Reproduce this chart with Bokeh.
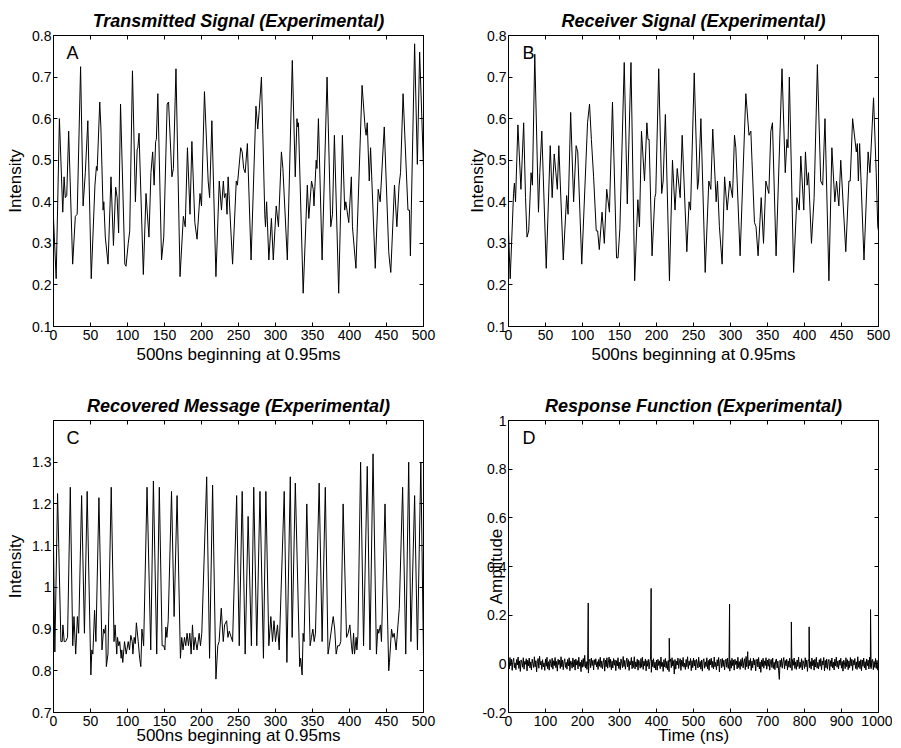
import math
from bokeh.plotting import figure
from bokeh.layouts import column, row
from bokeh.models import Range1d, FixedTicker, LinearAxis, Label, CustomLabelingPolicy
from bokeh.embed import file_html
from bokeh.resources import INLINE

FONT = "Liberation Sans"

# ---------------- Panel A: transmitted signal ----------------
A_t = [0, 3.6, 8, 12.5, 14.3, 16, 17.9, 20.5, 25.9, 29.5, 32, 36.6, 40, 43, 46.4, 51, 56, 58, 59, 62.5,
       64, 67, 68, 70, 73.7, 77.7, 81, 84, 86, 88, 90.6, 96.4, 98, 101, 103, 106.7, 110.7, 113, 114, 115.6,
       121.4, 125, 129, 131.7, 134, 136, 138, 139, 141, 146, 149, 153.6, 155.5, 160, 162, 165.5, 171, 175.5, 178, 181,
       184.5, 187, 191, 194, 198, 200, 204, 209, 211, 214, 219.5, 224, 227, 229.5, 231, 233, 234.5, 236, 242, 247,
       248.5, 253, 255, 257, 259, 262, 267, 273.6, 276, 278, 281, 285.5, 286.5, 288, 291, 294.5, 297, 301, 304, 308,
       310, 316, 322.7, 326.7, 329, 330, 331, 337.4, 343, 345, 348.7, 351, 352, 355, 356, 358, 363, 369.7, 374.7, 377,
       379.6, 385.4, 390.4, 393.5, 395, 399, 402.5, 404, 408.7, 417, 421, 422.5, 424, 426.7, 428.5, 434.8, 438.8, 441.5, 447, 453,
       454, 455.8, 460.8, 464, 467, 469, 472.4, 479, 481, 482.3, 488, 491.7, 494.8, 500]
A_v = [0.36, 0.215, 0.60, 0.375, 0.46, 0.41, 0.415, 0.57, 0.25, 0.365, 0.37, 0.725, 0.39, 0.47, 0.595, 0.215, 0.44, 0.485, 0.475, 0.64,
       0.58, 0.38, 0.40, 0.315, 0.25, 0.46, 0.295, 0.435, 0.41, 0.325, 0.635, 0.25, 0.245, 0.30, 0.33, 0.715, 0.40, 0.525, 0.53, 0.565,
       0.225, 0.42, 0.315, 0.47, 0.52, 0.44, 0.545, 0.55, 0.66, 0.26, 0.315, 0.635, 0.64, 0.46, 0.48, 0.72, 0.22, 0.365, 0.34, 0.53,
       0.37, 0.545, 0.35, 0.31, 0.42, 0.39, 0.665, 0.45, 0.41, 0.595, 0.22, 0.45, 0.38, 0.45, 0.41, 0.42, 0.37, 0.46, 0.25, 0.45,
       0.44, 0.53, 0.52, 0.48, 0.47, 0.54, 0.26, 0.63, 0.575, 0.62, 0.70, 0.37, 0.34, 0.40, 0.26, 0.36, 0.26, 0.39, 0.34, 0.52,
       0.48, 0.26, 0.74, 0.46, 0.60, 0.58, 0.59, 0.18, 0.44, 0.36, 0.45, 0.43, 0.39, 0.50, 0.48, 0.60, 0.26, 0.70, 0.34, 0.37,
       0.56, 0.18, 0.56, 0.38, 0.40, 0.35, 0.46, 0.34, 0.24, 0.68, 0.58, 0.56, 0.59, 0.45, 0.53, 0.24, 0.43, 0.40, 0.58, 0.28,
       0.26, 0.23, 0.44, 0.34, 0.44, 0.47, 0.66, 0.38, 0.38, 0.27, 0.78, 0.49, 0.76, 0.48]

# ---------------- Panel B: receiver signal ----------------
B_t = [0, 2.3, 6.8, 8, 9.5, 12.7, 16.8, 20.5, 23, 25, 27.3, 30.5, 32.3, 35.5, 40.5, 42.3, 45, 51, 56.4, 59,
       61.8, 64, 66, 68, 74, 78.6, 80.5, 84, 88, 91.4, 93.6, 99, 106.8, 109.5, 112, 115, 118.6, 120.5, 122.7, 126.4,
       129.5, 132.7, 136.4, 140.5, 146, 148, 150.5, 156.4, 160.5, 165.5, 170.5, 174.8, 177, 179.7, 183.8, 187, 188.5, 190, 194, 197.7,
       199, 203, 207, 209, 212, 217.5, 221.6, 225, 228, 232, 234.7, 241, 244, 246, 251, 255.4, 256.8, 260, 265.8, 270.7,
       273.4, 276, 280.6, 282.4, 285, 288.7, 292, 295.5, 299, 302.7, 305.4, 307.2, 313, 320.7, 325, 327.5, 329, 332.4, 334.5, 337.3,
       341.5, 344.6, 347.8, 350.4, 351.8, 354.5, 356.7, 361.6, 369.6, 374, 376.3, 377.7, 379.5, 385.3, 389.7, 392.9, 395, 399, 401.3, 403.6,
       405.4, 409.4, 413, 417.4, 421.9, 424.6, 427.7, 433, 437, 441, 443.3, 446.4, 449, 455.8, 460, 461.8, 465, 470, 471.4, 472.8,
       474.5, 480.4, 486, 488.4, 493.3, 496.9, 499, 500]
B_v = [0.33, 0.215, 0.42, 0.445, 0.40, 0.585, 0.43, 0.59, 0.41, 0.315, 0.33, 0.47, 0.44, 0.755, 0.375, 0.47, 0.57, 0.24, 0.535, 0.41,
       0.515, 0.47, 0.43, 0.535, 0.26, 0.415, 0.37, 0.615, 0.40, 0.535, 0.52, 0.25, 0.59, 0.635, 0.55, 0.46, 0.33, 0.33, 0.285, 0.375,
       0.30, 0.43, 0.375, 0.64, 0.265, 0.265, 0.335, 0.735, 0.395, 0.735, 0.21, 0.405, 0.34, 0.57, 0.45, 0.59, 0.55, 0.55, 0.27, 0.41,
       0.42, 0.72, 0.42, 0.45, 0.61, 0.21, 0.50, 0.38, 0.48, 0.41, 0.56, 0.28, 0.40, 0.38, 0.71, 0.43, 0.45, 0.60, 0.23, 0.45,
       0.43, 0.575, 0.40, 0.45, 0.34, 0.25, 0.46, 0.38, 0.45, 0.41, 0.56, 0.53, 0.27, 0.66, 0.56, 0.57, 0.50, 0.35, 0.34, 0.27,
       0.41, 0.30, 0.45, 0.43, 0.42, 0.57, 0.59, 0.27, 0.72, 0.47, 0.55, 0.53, 0.70, 0.23, 0.41, 0.38, 0.51, 0.38, 0.52, 0.44,
       0.47, 0.30, 0.41, 0.73, 0.45, 0.44, 0.60, 0.21, 0.53, 0.40, 0.45, 0.39, 0.50, 0.28, 0.45, 0.45, 0.60, 0.52, 0.54, 0.45,
       0.54, 0.26, 0.52, 0.47, 0.65, 0.47, 0.34, 0.33]

# ---------------- Panel C: recovered message ----------------
C_t = [0, 1.8, 5.5, 10, 11.8, 12.7, 14.5, 16.4, 19, 22.7, 26, 27.7, 30, 32.3, 34, 38, 41.8, 45.5, 50.5, 51.8,
       53.2, 55.5, 57.3, 61.4, 65.5, 67.7, 69, 70.5, 71.4, 73.6, 78, 81.8, 83.2, 85.5, 86.4, 88.2, 89.5, 91.4, 92.3, 93.6,
       96, 98.2, 101, 102.7, 104.5, 106.4, 107.3, 109, 110.5, 112, 114.5, 116.4, 118, 119.5, 121.8, 126.4, 131.4, 135, 139.5, 143,
       146.8, 149, 150.5, 151.8, 153.2, 155, 159.5, 163, 167, 171.5, 173.3, 175, 177, 178.7, 180.5, 182.4, 184.2, 186, 187.8, 189.6,
       191.4, 194, 196.8, 198.6, 200.4, 207, 210.9, 215, 219.5, 222, 223.8, 226.7, 229.4, 231.2, 234, 235.7, 237.5, 242, 247.5, 251,
       255, 259, 263, 267.4, 270.6, 274.7, 279, 283.7, 287, 291, 293.7, 296, 298, 300, 302.7, 305, 311.8, 315.4, 320, 322.5,
       326.8, 332.7, 334, 336, 337.3, 338.6, 342.3, 346.8, 348.6, 350.5, 352.3, 354, 359, 363, 367.3, 371, 372.7, 376.4, 378, 380,
       382, 384, 386.4, 388.2, 391.4, 396, 398.2, 400.5, 402.7, 404, 405.5, 406.8, 409, 410, 411.4, 415, 419, 424, 427.7, 431.8,
       436.4, 438.2, 439.5, 441.8, 443.2, 448, 453, 454, 456.8, 458.6, 460.4, 463, 465.5, 467.3, 471.8, 476, 480, 483, 488, 491.8,
       496.4, 500]
C_v = [1.10, 0.845, 1.225, 0.87, 0.87, 0.91, 0.87, 0.87, 0.88, 1.24, 0.86, 0.93, 0.84, 0.93, 0.89, 1.22, 0.89, 1.23, 0.79, 0.85,
       0.84, 0.945, 0.87, 1.215, 0.85, 0.90, 0.89, 0.91, 0.81, 0.84, 1.24, 0.87, 0.91, 0.84, 0.88, 0.86, 0.87, 0.83, 0.85, 0.82,
       0.87, 0.84, 0.87, 0.85, 0.885, 0.87, 0.84, 0.88, 0.865, 0.915, 0.87, 0.83, 0.81, 0.90, 0.86, 1.24, 0.85, 1.255, 0.84, 1.24,
       0.86, 0.86, 0.85, 0.905, 0.88, 0.92, 1.23, 0.93, 1.22, 0.83, 0.88, 0.85, 0.88, 0.86, 0.89, 0.86, 0.89, 0.84, 0.91, 0.85,
       0.88, 0.85, 0.89, 0.86, 0.89, 1.265, 0.83, 1.245, 0.78, 0.86, 0.87, 0.95, 0.87, 0.91, 0.92, 0.88, 0.895, 0.87, 1.22, 0.86,
       1.23, 0.84, 1.17, 0.86, 1.24, 0.86, 1.23, 0.83, 1.23, 0.86, 0.93, 0.87, 0.92, 0.87, 0.91, 0.85, 1.23, 0.82, 1.265, 0.88,
       1.25, 0.81, 0.83, 0.79, 0.89, 0.87, 1.20, 0.86, 0.88, 0.90, 0.87, 0.89, 1.25, 0.87, 1.24, 0.84, 0.86, 0.91, 0.93, 0.90,
       0.84, 0.86, 0.86, 0.87, 1.20, 0.88, 0.89, 0.91, 0.86, 0.84, 0.89, 0.84, 0.88, 0.85, 0.885, 1.30, 0.86, 1.29, 0.85, 1.32,
       0.84, 0.90, 0.89, 0.91, 0.87, 1.20, 0.80, 0.82, 0.90, 0.88, 0.89, 0.85, 0.91, 0.95, 1.24, 0.84, 1.30, 0.87, 1.22, 0.85,
       1.30, 0.83]

# ---------------- Panel D: response function ----------------
D_step_ns = 2
D_noise = [
    0.014, -0.021, 0.026, -0.008, 0.019, -0.027, 0.011, 0.023, -0.016, 0.004,
    -0.024, 0.018, -0.005, 0.028, -0.019, 0.012, -0.031, 0.016, 0.006, -0.014,
    0.025, -0.022, 0.010, -0.002, 0.021, -0.029, 0.015, -0.009, 0.024, -0.017,
    0.008, -0.025, 0.019, 0.002, -0.015, 0.029, -0.012, 0.013, -0.033, 0.009,
    0.022, -0.018, 0.031, -0.005, 0.011, -0.023, 0.017, -0.013, 0.004, -0.027,
    0.020, -0.010, 0.027, -0.020, 0.009, -0.026, 0.018, 0.001, -0.014, 0.023,
    -0.022, 0.013, -0.007, 0.026, -0.016, 0.010, -0.030, 0.019, -0.003, 0.015,
    -0.019, 0.029, -0.012, 0.016, -0.024, 0.008, 0.021, -0.015, 0.006, -0.022,
    0.018, -0.009, 0.025, -0.028, 0.012, 0.005, -0.018, 0.024, -0.013, 0.016,
    -0.026, 0.020, -0.005, 0.013, -0.021, 0.027, -0.010, 0.007, -0.032, 0.016,
    -0.014, 0.022, -0.011, 0.035, -0.017, 0.009, -0.023, 0.012, -0.038, 0.010,
    0.019, -0.016, 0.024, -0.007, 0.014, -0.025, 0.017, -0.004, 0.021, -0.013,
    0.009, -0.023, 0.018, -0.010, 0.027, -0.015, 0.012, -0.021, 0.005, 0.023,
    -0.030, 0.015, -0.012, 0.025, -0.018, 0.007, 0.028, -0.014, 0.019, -0.024,
    0.011, -0.017, 0.022, -0.006, 0.016, -0.028, 0.013, -0.009, 0.025, -0.019,
    0.006, -0.024, 0.020, 0.003, -0.016, 0.030, -0.011, 0.014, -0.022, 0.008,
    0.024, -0.013, 0.017, -0.027, 0.010, -0.005, 0.026, -0.020, 0.012, -0.015,
    0.029, -0.021, 0.008, -0.012, 0.019, -0.026, 0.015, 0.002, -0.018, 0.022,
    -0.014, 0.027, -0.023, 0.011, -0.008, 0.020, -0.029, 0.013, -0.010, 0.018,
    -0.021, 0.009, 0.024, -0.035, 0.016, -0.012, 0.021, -0.017, 0.007, -0.025,
    0.015, -0.026, 0.019, -0.007, 0.012, -0.020, 0.028, -0.011, 0.006, -0.031,
    0.017, -0.013, 0.022, -0.018, 0.010, -0.024, 0.014, -0.032, 0.009, 0.020,
    -0.016, 0.025, -0.009, 0.013, -0.042, 0.018, -0.022, 0.011, -0.005, 0.024,
    -0.019, 0.007, 0.021, -0.027, 0.015, -0.010, 0.026, -0.014, 0.003, -0.023,
    0.018, -0.012, 0.029, -0.020, 0.011, -0.006, 0.022, -0.028, 0.013, -0.016,
    0.024, -0.009, 0.015, -0.025, 0.019, 0.004, -0.017, 0.027, -0.013, 0.010,
    -0.022, 0.016, -0.030, 0.012, 0.021, -0.018, 0.008, -0.011, 0.025, -0.020,
    0.014, -0.027, 0.019, -0.004, 0.023, -0.015, 0.010, -0.021, 0.028, -0.012,
    0.006, -0.024, 0.017, -0.009, 0.026, -0.033, 0.012, 0.019, -0.016, 0.022,
    -0.011, 0.015, -0.025, 0.009, 0.020, -0.014, 0.024, -0.019, 0.011, -0.030,
    0.013, -0.018, 0.023, -0.008, 0.016, -0.026, 0.019, -0.003, 0.012, -0.021,
    0.027, -0.015, 0.009, -0.023, 0.018, -0.010, 0.025, -0.017, 0.007, 0.021,
    -0.024, 0.030, -0.012, 0.038, -0.020, 0.014, -0.008, 0.022, -0.027, 0.011,
    -0.016, 0.024, -0.005, 0.017, -0.029, 0.010, 0.020, -0.013, 0.026, -0.021,
    0.008, -0.035, 0.016, -0.011, 0.023, -0.018, 0.012, -0.007, 0.025, -0.022,
    0.015, -0.010, 0.021, -0.026, 0.009, 0.018, -0.015, 0.024, -0.019, 0.006,
    -0.024, 0.013, 0.020, -0.017, 0.011, -0.028, -0.064, 0.015, -0.012, 0.022,
    -0.018, 0.009, 0.026, -0.021, 0.014, -0.008, 0.019, -0.025, 0.012, -0.014,
    0.023, -0.016, 0.010, -0.027, 0.018, -0.006, 0.024, -0.019, 0.008, -0.023,
    0.016, -0.011, 0.028, -0.020, 0.007, -0.015, 0.021, -0.025, 0.013, 0.002,
    -0.019, 0.025, -0.012, 0.016, -0.031, 0.011, 0.020, -0.016, 0.009, -0.022,
    0.024, -0.008, 0.015, -0.026, 0.019, -0.013, 0.027, -0.018, 0.006, -0.021,
    0.017, -0.010, 0.022, -0.024, 0.012, -0.005, 0.026, -0.029, 0.014, -0.016,
    0.020, -0.022, 0.009, 0.018, -0.027, 0.013, -0.011, 0.024, -0.017, 0.007,
    -0.025, 0.019, -0.009, 0.028, -0.014, 0.011, -0.021, 0.016, -0.006, 0.023,
    -0.018, 0.010, -0.030, 0.015, 0.004, -0.020, 0.025, -0.012, 0.017, -0.024,
    0.012, -0.016, 0.026, -0.009, 0.019, -0.027, 0.014, -0.005, 0.022, -0.019,
    0.008, -0.023, 0.029, -0.014, 0.011, -0.020, 0.017, -0.028, 0.016, -0.010,
    0.024, -0.017, 0.009, -0.025, 0.020, -0.008, 0.015, -0.021, 0.027, -0.013,
    -0.020, 0.012, 0.018, -0.024, 0.010, -0.015, 0.022, -0.019, 0.014, -0.026,
    -0.012]
D_spike_t = [215.5, 385.5, 434.5, 597.5, 646.5, 764.5, 812.5, 978.5]
D_spike_v = [0.25, 0.31, 0.105, 0.245, 0.05, 0.172, 0.152, 0.223]

# merge the noise floor with the spikes into one time-ordered trace
pts = [(i * D_step_ns, v) for i, v in enumerate(D_noise)] + list(zip(D_spike_t, D_spike_v))
pts.sort(key=lambda q: q[0])
D_t = [q[0] for q in pts]
D_v = [q[1] for q in pts]

# ---------------- ticks ----------------
AB_xticks = [0, 50, 100, 150, 200, 250, 300, 350, 400, 450, 500]
AB_yticks = [0.1, 0.2, 0.3, 0.4, 0.5, 0.6, 0.7, 0.8]
AB_ylabels = {0.1: "0.1", 0.2: "0.2", 0.3: "0.3", 0.4: "0.4", 0.5: "0.5", 0.6: "0.6", 0.7: "0.7", 0.8: "0.8"}
C_yticks = [0.7, 0.8, 0.9, 1.0, 1.1, 1.2, 1.3]
C_ylabels = {0.7: "0.7", 0.8: "0.8", 0.9: "0.9", 1.0: "1", 1.1: "1.1", 1.2: "1.2", 1.3: "1.3"}
D_xticks = [0, 100, 200, 300, 400, 500, 600, 700, 800, 900, 1000]
D_yticks = [-0.2, 0.0, 0.2, 0.4, 0.6, 0.8, 1.0]
D_ylabels = {-0.2: "-0.2", 0.0: "0", 0.2: "0.2", 0.4: "0.4", 0.6: "0.6", 0.8: "0.8", 1.0: "1"}

FH1 = 291
FH2 = 292


def style_axis(ax, ticks, overrides=None, show_labels=True, standoff=2):
    ax.ticker = FixedTicker(ticks=ticks)
    ax.major_tick_in = 4
    ax.major_tick_out = 0
    ax.minor_tick_line_color = None
    ax.major_tick_line_color = "black"
    ax.axis_line_color = "black"
    ax.major_label_text_font = FONT
    ax.major_label_text_color = "black"
    ax.axis_label_text_font = FONT
    ax.axis_label_text_font_size = "17px"
    ax.axis_label_text_font_style = "normal"
    ax.axis_label_text_color = "black"
    if show_labels:
        ax.major_label_text_font_size = "14px"
        ax.major_label_standoff = standoff
        if overrides:
            ax.major_label_overrides = overrides
    else:
        ax.major_label_text_font_size = "1px"
        ax.major_label_standoff = 0
        ax.major_label_policy = CustomLabelingPolicy(code="for (const i of indices) { if (i < 0) { yield i } }")


def panel(width, height, bl, br, bt, bb, xr, yr, xticks, yticks, yover, title, xlabel, ylabel,
          xlabel_standoff, ylabel_standoff):
    p = figure(width=width, height=height, output_backend="svg", toolbar_location=None,
               x_range=Range1d(*xr), y_range=Range1d(*yr),
               min_border_left=bl, min_border_right=br, min_border_top=bt, min_border_bottom=bb)
    p.title.text = title
    p.title.align = "center"
    p.title.offset = 5
    p.title.standoff = 1
    p.title.text_font = FONT
    p.title.text_font_size = "18px"
    p.title.text_font_style = "bold italic"
    p.title.text_color = "black"
    p.grid.visible = False
    p.outline_line_color = "black"
    p.outline_line_width = 1
    style_axis(p.xaxis[0], xticks, standoff=3)
    style_axis(p.yaxis[0], yticks, yover, standoff=2)
    p.xaxis[0].axis_label = xlabel
    p.xaxis[0].axis_label_standoff = xlabel_standoff
    p.yaxis[0].axis_label = ylabel
    p.yaxis[0].axis_label_standoff = ylabel_standoff
    top = LinearAxis()
    style_axis(top, xticks, show_labels=False)
    p.add_layout(top, "above")
    right = LinearAxis()
    style_axis(right, yticks, show_labels=False)
    p.add_layout(right, "right")
    return p


def add_letter(p, fh, x, text):
    p.add_layout(Label(x=x, y=fh - 17, x_units="screen", y_units="screen", text=text,
                       text_font=FONT, text_font_size="18px", text_color="black",
                       text_align="left", text_baseline="alphabetic"))


pA = panel(463, 380, 53, 40, 35, 54, (0, 500), (0.1, 0.8), AB_xticks, AB_yticks, AB_ylabels,
           "Transmitted Signal (Experimental)", "500ns beginning at 0.95ms", "Intensity", 2, 4)
pB = panel(429, 380, 45, 14, 35, 54, (0, 500), (0.1, 0.8), AB_xticks, AB_yticks, AB_ylabels,
           "Receiver Signal (Experimental)", "500ns beginning at 0.95ms", "Intensity", 2, -3)
pC = panel(463, 368, 53, 40, 40, 36, (0, 500), (0.7, 1.4), AB_xticks, C_yticks, C_ylabels,
           "Recovered Message (Experimental)", "500ns beginning at 0.95ms", "Intensity", -3, 4)
pD = panel(429, 368, 45, 14, 40, 36, (0, 1000), (-0.2, 1.0), D_xticks, D_yticks, D_ylabels,
           "Response Function (Experimental)", "Time (ns)", "Amplitude", -3, -27)

pA.line(A_t, A_v, line_color="black", line_width=1)
pB.line(B_t, B_v, line_color="black", line_width=1)
pC.line(C_t, C_v, line_color="black", line_width=1)
pD.line(D_t, D_v, line_color="black", line_width=1)

add_letter(pA, FH1, 13, "A")
add_letter(pB, FH1, 14, "B")
add_letter(pC, FH2, 13, "C")
add_letter(pD, FH2, 14, "D")

layout = column(row(pA, pB), row(pC, pD))
open("out.html", "w").write(file_html(layout, INLINE))
